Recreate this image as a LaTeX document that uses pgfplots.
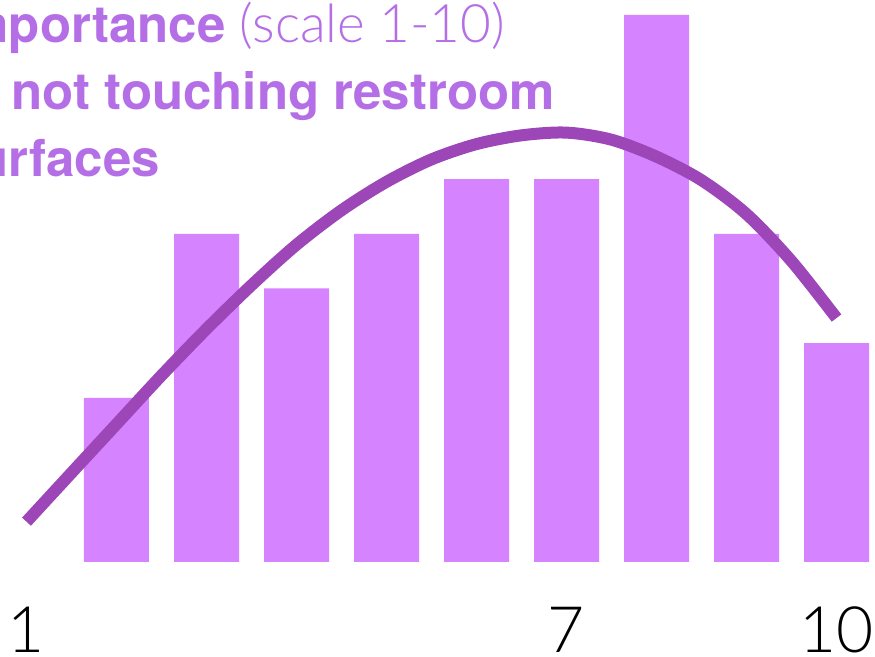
\documentclass[border=0pt]{standalone}
\usepackage{pgfplots}
\pgfplotsset{compat=1.18}
\usepackage{fontspec}
\setmainfont{TeX Gyre Heros}
\newfontfamily\lightfont{Lato Light}
\definecolor{barpurple}{HTML}{D683FF}
\definecolor{linepurple}{HTML}{9D46B8}
\definecolor{textpurple}{HTML}{B56FE6}

\begin{document}
\begin{tikzpicture}[x=1pt,y=1pt]
  \clip (0,0) rectangle (875,656);
  \begin{axis}[
    at={(0,0)}, anchor=south west,
    width=875pt, height=656pt, scale only axis,
    xmin=0.7056, xmax=10.4278,
    ymin=-1.7185, ymax=10.2742,
    axis line style={draw=none},
    major tick length=0pt,
    ytick=\empty,
    xtick={1,7,10},
    /pgf/number format/assume math mode=true,
    xticklabel style={font=\lightfont\fontsize{64}{64}\selectfont,
      anchor=base, yshift=4pt, inner sep=0pt},
  ]
    % bars (score 2..10, nobody gave 1)
    \addplot[ybar, bar width=65pt, fill=barpurple, draw=none] coordinates {
      (2,3) (3,6) (4,5) (5,6) (6,7) (7,7) (8,10) (9,6) (10,4)
    };
    % trend curve
    \addplot[linepurple, line width=12pt, smooth, no marks] coordinates {
      (1.0,0.737) (1.5,1.63) (2.0,2.52) (2.5,3.41) (3.0,4.26) (3.5,5.06)
      (4.0,5.80) (4.5,6.43) (5.0,6.95) (5.5,7.36) (6.0,7.64) (6.5,7.80)
      (7.0,7.85) (7.5,7.72) (8.0,7.41) (8.5,6.98) (9.0,6.36) (9.5,5.50)
      (10.0,4.46)
    };
  \end{axis}
  \node[anchor=base east, inner sep=0pt, text=textpurple,
    font=\bfseries\fontsize{51}{51}\selectfont] (l2) at (555,546) {of not touching restroom};
  \node[anchor=base west, inner sep=0pt, text=textpurple, yshift=67pt,
    font=\bfseries\fontsize{51}{51}\selectfont] at (l2.base west)
    {Importance {\mdseries\lightfont\fontsize{53}{53}\selectfont (scale 1-10)}};
  \node[anchor=base west, inner sep=0pt, text=textpurple, yshift=-67pt,
    font=\bfseries\fontsize{51}{51}\selectfont] at (l2.base west) {surfaces};
\end{tikzpicture}
\end{document}
